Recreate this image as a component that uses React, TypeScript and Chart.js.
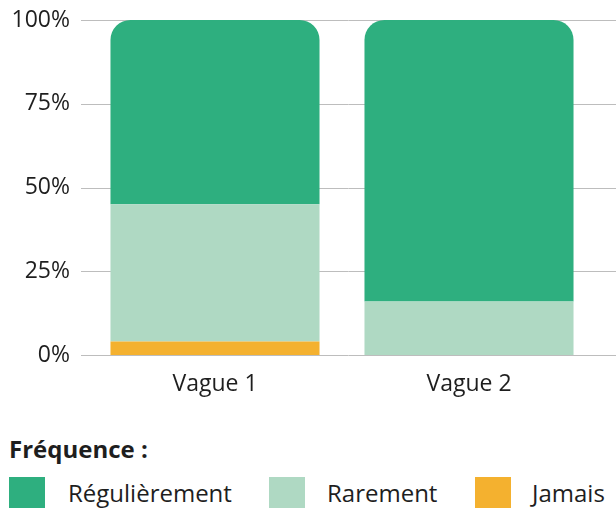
import React, { useEffect, useRef } from "react";
import { Chart, registerables } from "chart.js";

Chart.register(...registerables);

const categories = ["Vague 1", "Vague 2"];
const jamais = [4, 0];
const rarement = [41, 16];
const regulierement = [55, 84];
const yTicks = [0, 25, 50, 75, 100];
const legendTitle = "Fréquence :";
const legendLabels = ["Régulièrement", "Rarement", "Jamais"];

const COLORS = {
  regulierement: "#2eaf7f",
  rarement: "#afd9c3",
  jamais: "#f4b12f",
};

const FONT = "'Open Sans', 'Noto Sans', sans-serif";
const TEXT = "#1e1e1e";

const gridPlugin = {
  id: "customGrid",
  beforeDatasetsDraw(chart: any) {
    const { ctx, scales } = chart;
    const y = scales.y;
    ctx.save();
    ctx.strokeStyle = "#bdbdbd";
    ctx.lineWidth = 1;
    yTicks.forEach((t) => {
      const py = Math.round(y.getPixelForValue(t)) + 0.5;
      ctx.beginPath();
      ctx.moveTo(81, py);
      ctx.lineTo(chart.width, py);
      ctx.stroke();
    });
    ctx.restore();
  },
};

export default function App() {
  const ref = useRef<HTMLCanvasElement>(null);

  useEffect(() => {
    if (!ref.current) return;
    const chart = new Chart(ref.current, {
      type: "bar",
      data: {
        labels: categories,
        datasets: [
          {
            label: legendLabels[2],
            data: jamais,
            backgroundColor: COLORS.jamais,
            borderWidth: 0,
          },
          {
            label: legendLabels[1],
            data: rarement,
            backgroundColor: COLORS.rarement,
            borderWidth: 0,
          },
          {
            label: legendLabels[0],
            data: regulierement,
            backgroundColor: COLORS.regulierement,
            borderWidth: 0,
            borderSkipped: false,
            borderRadius: { topLeft: 20, topRight: 20, bottomLeft: 0, bottomRight: 0 },
          },
        ],
      },
      options: {
        responsive: false,
        animation: false,
        devicePixelRatio: 1,
        layout: { padding: { top: 20, right: 20, left: 0, bottom: 0 } },
        datasets: {
          bar: { barPercentage: 0.823, categoryPercentage: 1 },
        },
        plugins: {
          legend: { display: false },
          tooltip: { enabled: false },
        },
        scales: {
          x: {
            stacked: true,
            grid: { display: false, drawTicks: false },
            border: { display: false },
            ticks: {
              color: TEXT,
              font: { family: FONT, size: 23 },
              padding: 16,
            },
            afterFit: (s: any) => {
              s.height = 45;
              s.paddingLeft = 0;
              s.paddingRight = 0;
            },
          },
          y: {
            stacked: true,
            min: 0,
            max: 100,
            grid: { display: false, drawTicks: false },
            border: { display: false },
            afterBuildTicks: (s: any) => {
              s.ticks = yTicks.map((v) => ({ value: v }));
            },
            ticks: {
              color: TEXT,
              font: { family: FONT, size: 23 },
              padding: 18,
              callback: (v: any) => v + "%",
            },
            afterFit: (s: any) => {
              s.width = 88;
              s.paddingTop = 0;
              s.paddingBottom = 0;
            },
          },
        },
      },
      plugins: [gridPlugin],
    });
    return () => chart.destroy();
  }, []);

  const legendColors = [COLORS.regulierement, COLORS.rarement, COLORS.jamais];
  const boxLefts = [9, 269, 475];
  const textLefts = [68, 327, 532];

  return (
    <div
      style={{
        position: "absolute",
        left: 0,
        top: 0,
        width: 616,
        height: 508,
        background: "#fff",
        overflow: "hidden",
        fontFamily: FONT,
        color: TEXT,
      }}
    >
      <canvas
        ref={ref}
        width={616}
        height={400}
        style={{ position: "absolute", left: 0, top: 0, width: 616, height: 400 }}
      />
      <div
        style={{
          position: "absolute",
          left: 9,
          top: 433,
          fontSize: 24,
          lineHeight: "32px",
          fontWeight: 700,
          whiteSpace: "nowrap",
        }}
      >
        {legendTitle}
      </div>
      {legendLabels.map((lab, i) => (
        <React.Fragment key={lab}>
          <div
            style={{
              position: "absolute",
              left: boxLefts[i],
              top: 477,
              width: 36,
              height: 31,
              background: legendColors[i],
            }}
          />
          <div
            style={{
              position: "absolute",
              left: textLefts[i],
              top: 477,
              fontSize: 24,
              lineHeight: "32px",
              whiteSpace: "nowrap",
            }}
          >
            {lab}
          </div>
        </React.Fragment>
      ))}
    </div>
  );
}
